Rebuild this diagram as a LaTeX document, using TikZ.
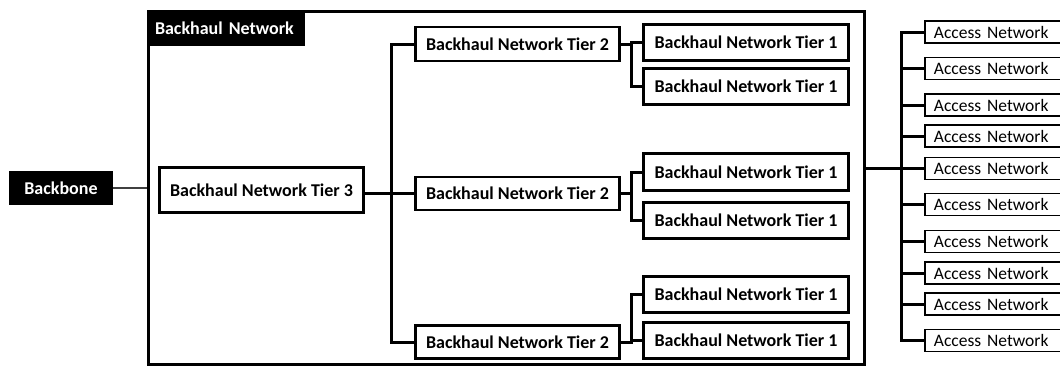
\documentclass[tikz,border=0pt]{standalone}
\usepackage{fontspec}
\setmainfont{Carlito}
\begin{document}
\begin{tikzpicture}[x=1pt,y=-1pt,
  tierbox/.style={draw=black,line width=1.8pt,fill=white,inner sep=0pt,minimum height=34pt,font=\fontsize{18}{20}\selectfont\bfseries},
  accbox/.style={draw=black,line width=1.8pt,fill=white,anchor=west,inner xsep=9pt,inner ysep=0pt,minimum height=22pt,text width=140pt,align=left,font=\fontsize{17.5}{19}\selectfont},
  blackbox/.style={fill=black,text=white,inner sep=0pt,font=\fontsize{18}{20}\selectfont\bfseries},
  conn/.style={line width=3pt,line cap=rect},
  framebox/.style={draw=black,line width=3pt,inner sep=0pt}]
\useasboundingbox (0,0) rectangle (1060,368);
% frame
\node[framebox,minimum width=716pt,minimum height=353pt] (bh) at (506.5,188) {};
\node[blackbox,minimum width=158pt,minimum height=36pt,text width=142pt,align=left] (bhl) at (226,28) {Backhaul Network};
% backbone
\node[blackbox,minimum width=104pt,minimum height=34pt] (bb) at (61,188) {Backbone};
% tier 3
\node[tierbox,minimum width=203pt,minimum height=44pt] (t3) at (261.5,190) {Backhaul Network Tier 3};
% tier 2
\node[tierbox,minimum width=203pt,minimum height=33pt] (t2a) at (517.5,44) {Backhaul Network Tier 2};
\node[tierbox,minimum width=203pt,minimum height=32pt] (t2b) at (517.5,193.5) {Backhaul Network Tier 2};
\node[tierbox,minimum width=203pt,minimum height=32pt] (t2c) at (517.5,342) {Backhaul Network Tier 2};
% tier 1
\node[tierbox,minimum width=204pt,minimum height=35pt] (t1a) at (746,42.5) {Backhaul Network Tier 1};
\node[tierbox,minimum width=204pt,minimum height=35pt] (t1b) at (746,86.5) {Backhaul Network Tier 1};
\node[tierbox,minimum width=204pt,minimum height=36pt] (t1c) at (746,172) {Backhaul Network Tier 1};
\node[tierbox,minimum width=204pt,minimum height=35pt] (t1d) at (746,220.5) {Backhaul Network Tier 1};
\node[tierbox,minimum width=204pt,minimum height=35pt] (t1e) at (746,294.5) {Backhaul Network Tier 1};
\node[tierbox,minimum width=204pt,minimum height=35pt] (t1f) at (746,340.5) {Backhaul Network Tier 1};
% access
\foreach \i/\y in {1/32,2/68.5,3/105,4/136,5/168.5,6/204.5,7/241.5,8/273,9/304,10/340.5}{
  \node[accbox] (a\i) at (924,\y) {Access Network};
}
% bus coordinates
\coordinate (b1x) at (391.5,0);
\coordinate (b2x) at (631.5,0);
\coordinate (b3x) at (901,0);
% connectors
\draw[line width=2.2pt,draw=black!75] (bb.east) -- (bb.east -| bh.west);
\draw[conn] (t2b.west -| t3.east) -- (t2b.west);
\draw[conn] (t2a.west) -- (t2a.west -| b1x) -- (t2c.west -| b1x) -- (t2c.west);
\draw[conn] (t1a.west) -- (t1a.west -| b2x) -- (t1b.west -| b2x) -- (t1b.west);
\draw[conn] (t2a.east) -- (t2a.east -| b2x);
\draw[conn] (t1c.west) -- (t1c.west -| b2x) -- (t1d.west -| b2x) -- (t1d.west);
\draw[conn] (t2b.east) -- (t2b.east -| b2x);
\draw[conn] (t1e.west) -- (t1e.west -| b2x) -- (t1f.west -| b2x) -- (t1f.west);
\draw[conn] (t2c.east) -- (t2c.east -| b2x);
\draw[conn] (a1.west) -- (a1.west -| b3x) -- (a10.west -| b3x) -- (a10.west);
\foreach \i in {2,...,9}{
  \draw[conn] (a\i.west -| b3x) -- (a\i.west);
}
\draw[conn] (a5.west -| bh.east) -- (a5.west -| b3x);
% redraw box borders on top of connector ends
\foreach \n in {t3,t2a,t2b,t2c,t1a,t1b,t1c,t1d,t1e,t1f}{
  \draw[line width=1.8pt] (\n.south west) rectangle (\n.north east);
}
\end{tikzpicture}
\end{document}
